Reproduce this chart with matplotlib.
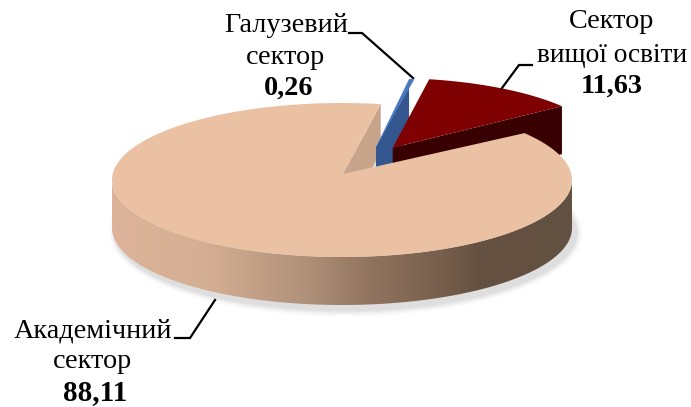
import numpy as np
import matplotlib
matplotlib.use("Agg")
import matplotlib.pyplot as plt
from matplotlib.colors import LinearSegmentedColormap
from matplotlib.patches import Ellipse, Polygon

# data
names = ["Академічний\nсектор", "Сектор\nвищої освіти", "Галузевий\nсектор"]
values = [88.11, 11.63, 0.26]
value_labels = ["88,11", "11,63", "0,26"]

# look of the pie (pixels of the picture)
start_angle = 37.5
depth = 48
main_ellipse = (342, 180, 230, 77)
main_hub = (343, 174)
red_ellipse = (389, 150, 218, 72)
red_hub = (392.7, 147.7)
blue_ellipse = (373, 150, 214, 72)
blue_hub = (376, 147)

plt.rcParams["font.family"] = ["Liberation Serif", "DejaVu Serif"]


def arc(ell, a0, a1, n=200):
    t = np.radians(np.linspace(a0, a1, n))
    return np.column_stack([ell[0] + ell[2] * np.cos(t), ell[1] - ell[3] * np.sin(t)])


def sector(ell, hub, a0, a1):
    return np.vstack([[hub], arc(ell, a0, a1)])


# sector angles come from the values
sweeps = [v / sum(values) * 360 for v in values]
red_a0 = start_angle
red_a1 = red_a0 + sweeps[1]
blue_a0 = red_a1
blue_a1 = blue_a0 + sweeps[2]
main_a0 = blue_a1
main_a1 = main_a0 + sweeps[0]

fig = plt.figure(figsize=(6.91, 4.07), dpi=100)
ax = fig.add_axes([0, 0, 1, 1])

# soft shadow under the pie
for grow, alpha in zip(np.arange(14, 0, -2), np.linspace(0.012, 0.055, 7)):
    ax.add_patch(Ellipse((346, 233), 2 * 230 + grow, 2 * 77 + grow, color="#707070", alpha=alpha, lw=0))

# cut face of the big sector
p0 = np.array(main_hub)
p1 = arc(main_ellipse, main_a0, main_a0, 1)[0]
down = np.array([0, depth])
ax.fill(*np.array([p0, p1, p1 + down, p0 + down]).T, color="#C8A58A", lw=0)

# blue sector
p1 = arc(blue_ellipse, blue_a0, blue_a0, 1)[0]
p2 = arc(blue_ellipse, blue_a1, blue_a1, 1)[0]
blue_hub_arr = np.array(blue_hub)
ax.fill(*np.array([blue_hub_arr, p1, p2, p2 + down, p1 + down, blue_hub_arr + down]).T, color="#35578F", lw=0)
ax.fill(*sector(blue_ellipse, blue_hub, blue_a0 - 0.5, blue_a1).T, color="#4A78C0", lw=0)

# red sector
red_hub_arr = np.array(red_hub)
p1 = arc(red_ellipse, red_a0, red_a0, 1)[0]
ax.fill(*np.array([red_hub_arr, p1, p1 + down, red_hub_arr + down]).T, color="#380000", lw=0)
ax.fill(*sector(red_ellipse, red_hub, red_a0, red_a1).T, color="#7F0000", lw=0)

# side wall of the big sector with the gradient
cmap = LinearSegmentedColormap.from_list(
    "wall",
    [(0.0, "#DDB499"), (0.2, "#D5AF93"), (0.42, "#B0917A"), (0.55, "#937660"),
     (0.72, "#755E4C"), (0.8, "#655040"), (1.0, "#625042")],
)
low = arc(main_ellipse, 180, 360)
wall = Polygon(np.vstack([low, (low + down)[::-1]]), transform=ax.transData)
grad = ax.imshow(np.linspace(0, 1, 256).reshape(1, -1), cmap=cmap, extent=(112, 572, 320, 100),
                 aspect="auto", interpolation="bilinear", zorder=2)
grad.set_clip_path(wall)

# top of the big sector
ax.fill(*sector(main_ellipse, main_hub, main_a0, main_a1).T, color="#EAC1A2", lw=0, zorder=3)

# leader lines
line_style = dict(color="black", lw=1.6, solid_joinstyle="miter", zorder=4)
ax.plot([349, 362, 413], [33, 33, 78], **line_style)
ax.plot([532, 519, 502], [65, 65, 88], **line_style)
ax.plot([175, 190, 215], [338, 338, 300], **line_style)

# labels
fs = 20.3
ax.text(286, 25, names[2].split("\n")[0], fontsize=fs, ha="center", va="center")
ax.text(286, 57, names[2].split("\n")[1], fontsize=fs, ha="center", va="center")
ax.text(289, 88, value_labels[2], fontsize=fs, fontweight="bold", ha="center", va="center")
ax.text(612, 22, names[1].split("\n")[0], fontsize=fs, ha="center", va="center")
ax.text(612, 55, names[1].split("\n")[1], fontsize=19.7, ha="center", va="center")
ax.text(612, 86, value_labels[1], fontsize=fs, fontweight="bold", ha="center", va="center")
ax.text(93, 331, names[0].split("\n")[0], fontsize=fs, ha="center", va="center")
ax.text(93, 362, names[0].split("\n")[1], fontsize=fs, ha="center", va="center")
ax.text(95, 393, value_labels[0], fontsize=21, fontweight="bold", ha="center", va="center")

ax.set_xlim(0, 691)
ax.set_ylim(407, 0)
ax.axis("off")
fig.savefig("out.png", dpi=100)
